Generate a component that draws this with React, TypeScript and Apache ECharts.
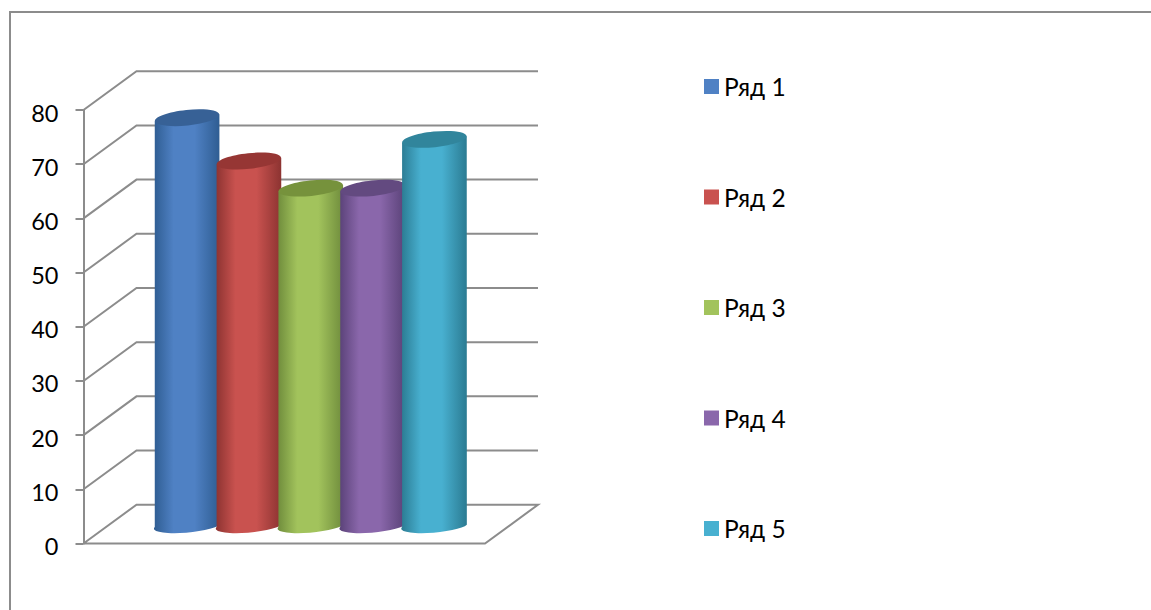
import React, { useEffect, useRef } from "react";
import * as echarts from "echarts";

const categories = ["Категория 1"];
const seriesNames = ["Ряд 1", "Ряд 2", "Ряд 3", "Ряд 4", "Ряд 5"];
const seriesValues = [75, 67, 62, 62, 71];
const tickValues = [0, 10, 20, 30, 40, 50, 60, 70, 80];

const baseColors = ["#4f81c4", "#c9524f", "#a2c35c", "#8a67ab", "#48b0d0"];
const edgeColors = ["#2f5d92", "#8c3331", "#6f8c3c", "#5a4278", "#2b7b92"];
const topColors = ["#376196", "#963634", "#76923c", "#634a80", "#31859c"];

const FONT = "Lato, Carlito, 'Open Sans', sans-serif";
const LINE = "#8c8c8c";
const DEPTH_X = 53;
const DEPTH_Y = -38.8;
const SPACING = 0.154;
const DIAMETER = 0.161;
const TOP_TILT_DEG = 6;

const renderFrame = (_p: any, api: any) => {
  const tick = api.value(1);
  const left = api.coord([0, tick]);
  const width = api.size([1, 0])[0];
  const x0 = left[0] - width / 2;
  const y = left[1];
  const points =
    tick === 0
      ? [[x0, y], [x0 + DEPTH_X, y + DEPTH_Y], [x0 + DEPTH_X + width, y + DEPTH_Y], [x0 + width, y], [x0, y]]
      : [[x0, y], [x0 + DEPTH_X, y + DEPTH_Y], [x0 + DEPTH_X + width, y + DEPTH_Y]];
  return {
    type: "polyline",
    shape: { points },
    style: { stroke: LINE, lineWidth: 2, fill: "none" },
  };
};

const makeCylinder = (i: number) => (_p: any, api: any) => {
  const top = api.coord([0, api.value(1)]);
  const bottom = api.coord([0, 0]);
  const band = api.size([1, 0])[0];
  const cx = top[0] + (i - 2) * SPACING * band + DEPTH_X / 2;
  const r = (DIAMETER * band) / 2;
  const topY = top[1] + DEPTH_Y / 2;
  const baseY = bottom[1] + DEPTH_Y / 2 + 0.5;
  const topTilt = 3.2;
  const baseTilt = 2.5;
  const body =
    `M${cx - r} ${topY + topTilt} L${cx - r} ${baseY + baseTilt} ` +
    `A${r} 6.5 -4.5 0 0 ${cx + r} ${baseY - baseTilt} ` +
    `L${cx + r} ${topY - topTilt} Z`;
  return {
    type: "group",
    children: [
      {
        type: "path",
        shape: { pathData: body },
        style: {
          fill: new echarts.graphic.LinearGradient(0, 0, 1, 0, [
            { offset: 0, color: edgeColors[i] },
            { offset: 0.3, color: baseColors[i] },
            { offset: 0.62, color: baseColors[i] },
            { offset: 1, color: edgeColors[i] },
          ]),
        },
      },
      {
        type: "ellipse",
        x: cx,
        y: topY,
        rotation: (TOP_TILT_DEG * Math.PI) / 180,
        shape: { cx: 0, cy: 0, rx: r, ry: 7.8 },
        style: { fill: topColors[i] },
      },
    ],
  };
};

export default function App() {
  const ref = useRef<HTMLDivElement>(null);
  useEffect(() => {
    const chart = echarts.init(ref.current!, undefined, { renderer: "svg" });
    chart.setOption({
      animation: false,
      backgroundColor: "#ffffff",
      textStyle: { fontFamily: FONT },
      graphic: [
        {
          type: "polyline",
          silent: true,
          shape: { points: [[10, 610], [10, 12], [1151, 12]] },
          style: { stroke: LINE, lineWidth: 2, fill: "none" },
        },
      ],
      grid: { left: 83.5, right: 666, top: 110, bottom: 66.5 },
      legend: {
        orient: "vertical",
        left: 699,
        top: 68,
        data: seriesNames,
        icon: "rect",
        itemWidth: 15,
        itemHeight: 15,
        itemGap: 83.5,
        selectedMode: false,
        textStyle: { fontFamily: FONT, fontSize: 24.5, color: "#000000", lineHeight: 26, padding: [1, 0, 0, 0] },
      },
      xAxis: {
        type: "category",
        data: categories,
        axisLine: { show: false },
        axisTick: { show: false },
        axisLabel: { show: false },
        splitLine: { show: false },
      },
      yAxis: {
        type: "value",
        min: 0,
        max: 80,
        interval: 10,
        axisLine: { show: true, lineStyle: { color: LINE, width: 2 } },
        axisTick: { show: true, length: 8, lineStyle: { color: LINE, width: 2 } },
        axisLabel: {
          margin: 25,
          color: "#000000",
          formatter: (v: number) => `{a|${v}}`,
          rich: {
            a: { fontFamily: FONT, fontSize: 23.5, color: "#000000", lineHeight: 26, padding: [5, 0, 0, 0] },
          },
        },
        splitLine: { show: false },
      },
      series: [
        {
          type: "custom",
          name: "frame",
          coordinateSystem: "cartesian2d",
          renderItem: renderFrame,
          silent: true,
          data: tickValues.map((t) => [categories[0], t]),
          encode: { x: 0, y: 1 },
        },
        ...seriesNames.map((name, i) => ({
          type: "custom",
          name,
          coordinateSystem: "cartesian2d",
          renderItem: makeCylinder(i),
          itemStyle: { color: baseColors[i] },
          data: [[categories[0], seriesValues[i]]],
          encode: { x: 0, y: 1 },
        })),
      ],
    });
    return () => chart.dispose();
  }, []);
  return <div ref={ref} style={{ position: "fixed", left: 0, top: 0, width: 1151, height: 610 }} />;
}
